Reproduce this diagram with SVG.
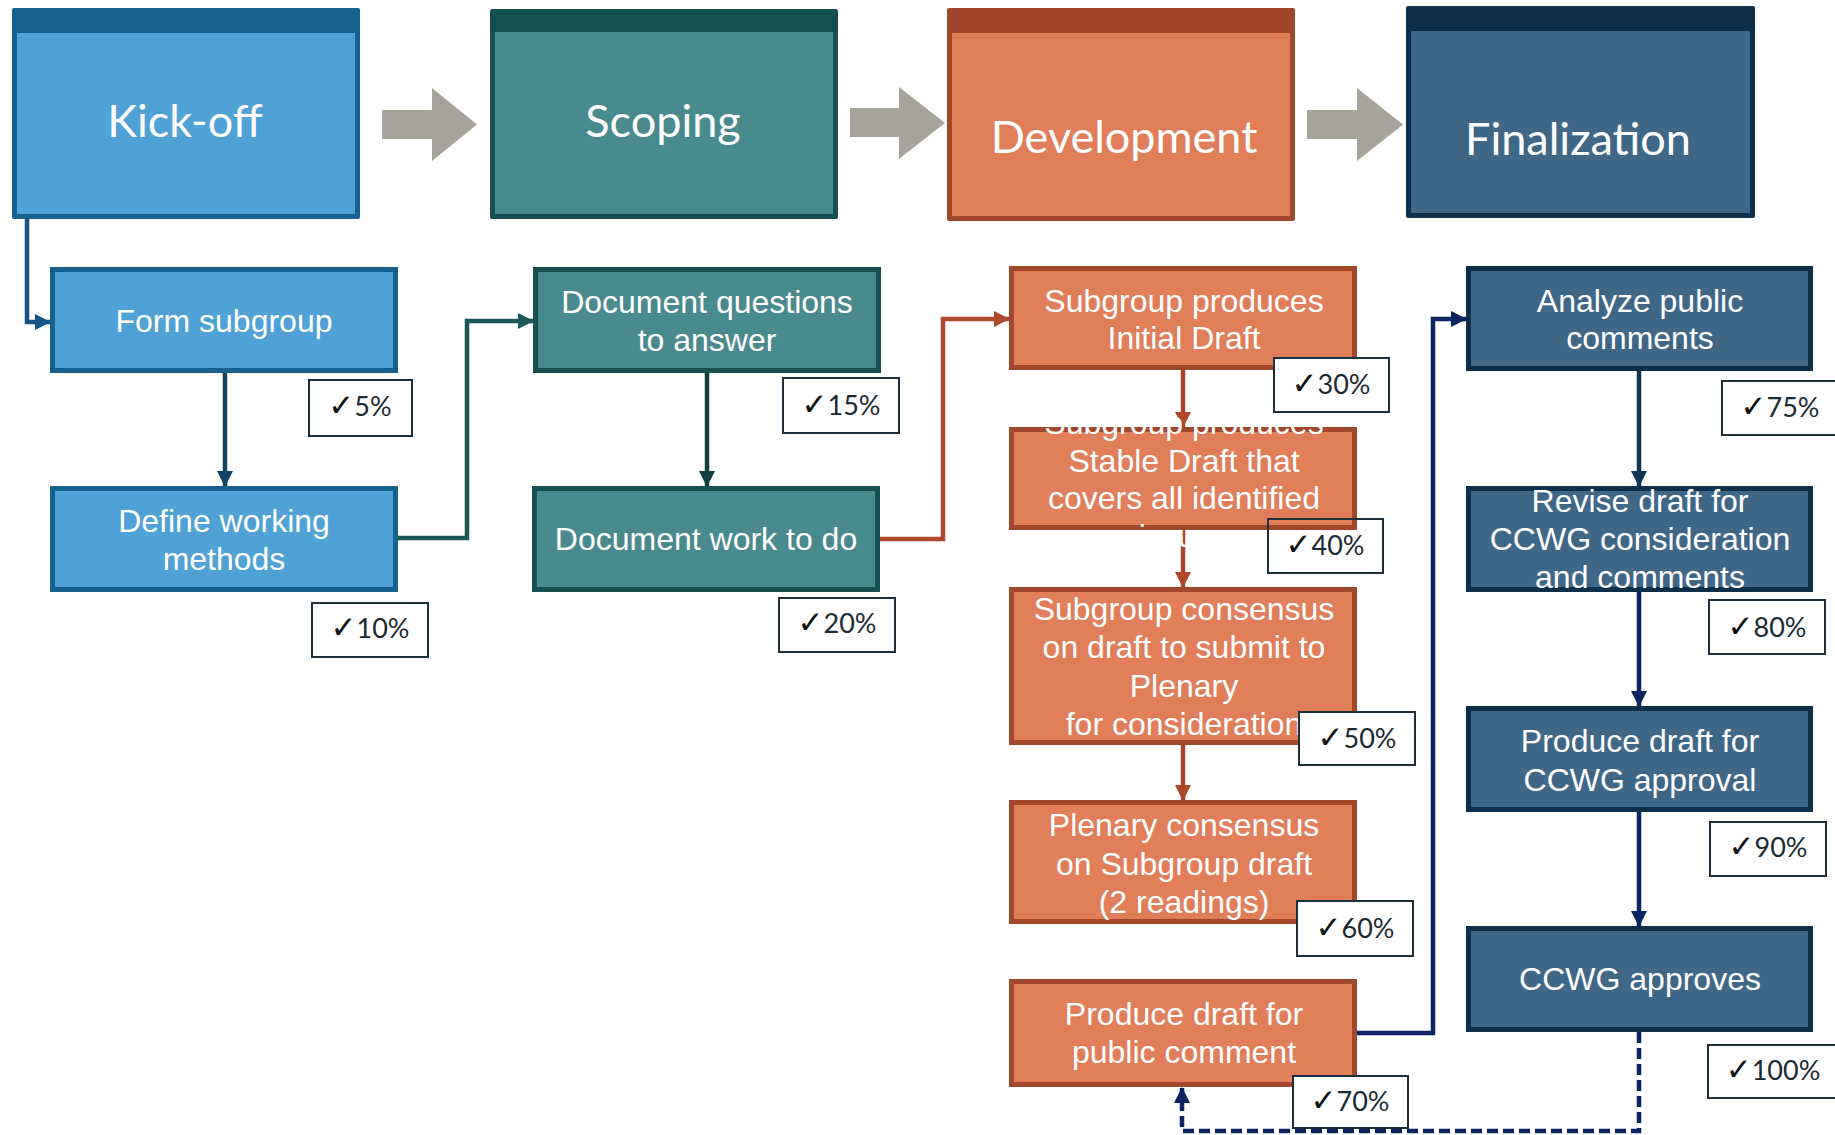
<svg xmlns="http://www.w3.org/2000/svg" width="1835" height="1135" viewBox="0 0 1835 1135">
<defs>
<style>
.hdr-t{font-family:Lato,"Open Sans",sans-serif;font-size:45px;fill:#fff;text-anchor:middle}
.bt{font-family:"Liberation Sans",Arial,sans-serif;font-size:32px;fill:#fff;text-anchor:middle}
.chk rect{fill:#fff;stroke:#1f3038;stroke-width:2}
.chk text{font-family:Lato,"DejaVu Sans",sans-serif;font-size:27px;fill:#1a2a30;text-anchor:middle}
.chk tspan.m{font-family:"DejaVu Sans",sans-serif;font-size:31px;font-weight:bold;fill:#111}
.con{fill:none;stroke-width:4.5;stroke-linejoin:miter}
.ga{fill:#a6a39a}
.kb{fill:#4fa1d6;stroke:#17618f;stroke-width:5}
.sb{fill:#488a8d;stroke:#175050;stroke-width:5}
.db{fill:#e07e5a;stroke:#a2472a;stroke-width:5}
.fb{fill:#3e6788;stroke:#0c2f4b;stroke-width:5}
</style>
<marker id="mBlue" markerUnits="userSpaceOnUse" markerWidth="16" markerHeight="16" viewBox="0 0 16 16" refX="15" refY="8" orient="auto"><path d="M0,0 L16,8 L0,16 z" fill="#17548a"/></marker>
<marker id="mBlue2" markerUnits="userSpaceOnUse" markerWidth="16" markerHeight="16" viewBox="0 0 16 16" refX="15" refY="8" orient="auto"><path d="M0,0 L16,8 L0,16 z" fill="#0f4467"/></marker>
<marker id="mTeal" markerUnits="userSpaceOnUse" markerWidth="16" markerHeight="16" viewBox="0 0 16 16" refX="15" refY="8" orient="auto"><path d="M0,0 L16,8 L0,16 z" fill="#1b5858"/></marker>
<marker id="mTeal2" markerUnits="userSpaceOnUse" markerWidth="16" markerHeight="16" viewBox="0 0 16 16" refX="15" refY="8" orient="auto"><path d="M0,0 L16,8 L0,16 z" fill="#123f40"/></marker>
<marker id="mOr" markerUnits="userSpaceOnUse" markerWidth="16" markerHeight="16" viewBox="0 0 16 16" refX="15" refY="8" orient="auto"><path d="M0,0 L16,8 L0,16 z" fill="#ad4828"/></marker>
<marker id="mNavy" markerUnits="userSpaceOnUse" markerWidth="16" markerHeight="16" viewBox="0 0 16 16" refX="15" refY="8" orient="auto"><path d="M0,0 L16,8 L0,16 z" fill="#0b2462"/></marker>
<marker id="mNavy2" markerUnits="userSpaceOnUse" markerWidth="16" markerHeight="16" viewBox="0 0 16 16" refX="15" refY="8" orient="auto"><path d="M0,0 L16,8 L0,16 z" fill="#0e3556"/></marker>
</defs>
<rect width="1835" height="1135" fill="#fff"/>

<!-- phase arrows -->
<g id="phase-arrows">
<path class="ga" d="M382,110 H432 V88 L477,124.5 L432,161 V139 H382 z"/>
<path class="ga" d="M850,108 H899 V87 L945,123 L899,159 V137 H850 z"/>
<path class="ga" d="M1307,110 H1357 V88 L1403,124.5 L1357,161 V139 H1307 z"/>
</g>

<!-- phase headers -->
<g id="kickoff">
<rect x="12" y="8" width="348" height="211" rx="2" fill="#17618f"/>
<rect x="17" y="33" width="338" height="181" fill="#4fa1d6"/>
<text class="hdr-t" x="185" y="137">Kick-off</text>
</g>
<g id="scoping">
<rect x="490" y="9" width="348" height="210" rx="2" fill="#175050"/>
<rect x="495" y="32" width="338" height="182" fill="#488a8d"/>
<text class="hdr-t" x="663" y="137">Scoping</text>
</g>
<g id="development">
<rect x="947" y="8" width="348" height="213" rx="2" fill="#a2472a"/>
<rect x="952" y="33" width="338" height="183" fill="#e07e5a"/>
<text class="hdr-t" x="1124" y="153">Development</text>
</g>
<g id="finalization">
<rect x="1406" y="6" width="349" height="212" rx="2" fill="#0c2f4b"/>
<rect x="1411" y="31" width="339" height="182" fill="#3e6788"/>
<text class="hdr-t" x="1578" y="155">Finalization</text>
</g>

<!-- connectors -->
<g id="connectors">
<path class="con" stroke="#17548a" marker-end="url(#mBlue)" d="M27,219 V322 H50"/>
<path class="con" stroke="#0f4467" marker-end="url(#mBlue2)" d="M225,373 V486"/>
<path class="con" stroke="#1b5858" marker-end="url(#mTeal)" d="M398,538 H467 V321 H533"/>
<path class="con" stroke="#123f40" marker-end="url(#mTeal2)" d="M707,373 V486"/>
<path class="con" stroke="#b0482a" marker-end="url(#mOr)" d="M880,539 H943 V319 H1009"/>
<path class="con" stroke="#a9452a" marker-end="url(#mOr)" d="M1183,370 V427"/>
<path class="con" stroke="#a9452a" marker-end="url(#mOr)" d="M1183,530 V587"/>
<path class="con" stroke="#a9452a" marker-end="url(#mOr)" d="M1183,745 V800"/>
<path class="con" stroke="#0b2462" marker-end="url(#mNavy)" d="M1357,1033 H1433 V319 H1466"/>
<path class="con" stroke="#0e3556" marker-end="url(#mNavy2)" d="M1639,371 V486"/>
<path class="con" stroke="#0b2462" marker-end="url(#mNavy)" d="M1639,592 V706"/>
<path class="con" stroke="#0b2462" marker-end="url(#mNavy)" d="M1639,812 V926"/>
<path class="con" stroke="#0b2462" stroke-width="5" stroke-dasharray="11 5" marker-end="url(#mNavy)" d="M1639,1032 V1131 H1182 V1088"/>
</g>

<!-- kick-off column -->
<g id="form-subgroup">
<rect class="kb" x="52.5" y="269.5" width="343" height="101"/>
<text class="bt" x="224" y="332">Form subgroup</text>
</g>
<g id="define-working-methods">
<rect class="kb" x="52.5" y="488.5" width="343" height="101"/>
<text class="bt" x="224" y="532">Define working</text>
<text class="bt" x="224" y="570">methods</text>
</g>

<!-- scoping column -->
<g id="document-questions">
<rect class="sb" x="535.5" y="269.5" width="343" height="101"/>
<text class="bt" x="707" y="313">Document questions</text>
<text class="bt" x="707" y="351">to answer</text>
</g>
<g id="document-work">
<rect class="sb" x="534.5" y="488.5" width="343" height="101"/>
<text class="bt" x="706" y="550">Document work to do</text>
</g>

<!-- development column -->
<g id="initial-draft">
<rect class="db" x="1011.5" y="268.5" width="343" height="99"/>
<text class="bt" x="1184" y="312">Subgroup produces</text>
<text class="bt" x="1184" y="349">Initial Draft</text>
</g>
<g id="stable-draft">
<rect class="db" x="1011.5" y="429.5" width="343" height="98"/>
<text class="bt" x="1184" y="434">Subgroup produces</text>
<text class="bt" x="1184" y="472">Stable Draft that</text>
<text class="bt" x="1184" y="509">covers all identified</text>
<text class="bt" x="1184" y="547">issues</text>
</g>
<g id="subgroup-consensus">
<rect class="db" x="1011.5" y="589.5" width="343" height="153"/>
<text class="bt" x="1184" y="620">Subgroup consensus</text>
<text class="bt" x="1184" y="658">on draft to submit to</text>
<text class="bt" x="1184" y="697">Plenary</text>
<text class="bt" x="1184" y="735">for consideration</text>
</g>
<g id="plenary-consensus">
<rect class="db" x="1011.5" y="802.5" width="343" height="119"/>
<text class="bt" x="1184" y="836">Plenary consensus</text>
<text class="bt" x="1184" y="875">on Subgroup draft</text>
<text class="bt" x="1184" y="913">(2 readings)</text>
</g>
<g id="public-comment-draft">
<rect class="db" x="1011.5" y="981.5" width="343" height="103"/>
<text class="bt" x="1184" y="1025">Produce draft for</text>
<text class="bt" x="1184" y="1063">public comment</text>
</g>

<!-- finalization column -->
<g id="analyze-comments">
<rect class="fb" x="1468.5" y="268.5" width="342" height="100"/>
<text class="bt" x="1640" y="312">Analyze public</text>
<text class="bt" x="1640" y="349">comments</text>
</g>
<g id="revise-draft">
<rect class="fb" x="1468.5" y="488.5" width="342" height="101"/>
<text class="bt" x="1640" y="512">Revise draft for</text>
<text class="bt" x="1640" y="550">CCWG consideration</text>
<text class="bt" x="1640" y="588">and comments</text>
</g>
<g id="ccwg-approval-draft">
<rect class="fb" x="1468.5" y="708.5" width="342" height="101"/>
<text class="bt" x="1640" y="752">Produce draft for</text>
<text class="bt" x="1640" y="791">CCWG approval</text>
</g>
<g id="ccwg-approves">
<rect class="fb" x="1468.5" y="928.5" width="342" height="101"/>
<text class="bt" x="1640" y="990">CCWG approves</text>
</g>

<!-- progress checks -->
<g id="checks" class="chk">
<g id="chk5"><rect x="309" y="380" width="103" height="56"/><text x="360" y="416"><tspan class="m">✓</tspan>5%</text></g>
<g id="chk10"><rect x="312" y="603" width="116" height="54"/><text x="370" y="638"><tspan class="m">✓</tspan>10%</text></g>
<g id="chk15"><rect x="783" y="378" width="116" height="55"/><text x="841" y="415"><tspan class="m">✓</tspan>15%</text></g>
<g id="chk20"><rect x="779" y="598" width="116" height="54"/><text x="837" y="633"><tspan class="m">✓</tspan>20%</text></g>
<g id="chk30"><rect x="1274" y="358" width="115" height="54"/><text x="1331" y="394"><tspan class="m">✓</tspan>30%</text></g>
<g id="chk40"><rect x="1268" y="519" width="115" height="54" style="fill:none"/><text x="1325" y="555"><tspan class="m">✓</tspan>40%</text></g>
<g id="chk50"><rect x="1299" y="712" width="116" height="53"/><text x="1357" y="748"><tspan class="m">✓</tspan>50%</text></g>
<g id="chk60"><rect x="1297" y="901" width="116" height="55"/><text x="1355" y="938"><tspan class="m">✓</tspan>60%</text></g>
<g id="chk70"><rect x="1293" y="1076" width="115" height="52"/><text x="1350" y="1111"><tspan class="m">✓</tspan>70%</text></g>
<g id="chk75"><rect x="1722" y="381" width="120" height="54"/><text x="1780" y="417"><tspan class="m">✓</tspan>75%</text></g>
<g id="chk80"><rect x="1709" y="600" width="116" height="54"/><text x="1767" y="637"><tspan class="m">✓</tspan>80%</text></g>
<g id="chk90"><rect x="1710" y="822" width="116" height="54"/><text x="1768" y="857"><tspan class="m">✓</tspan>90%</text></g>
<g id="chk100"><rect x="1708" y="1045" width="132" height="53"/><text x="1773" y="1080"><tspan class="m">✓</tspan>100%</text></g>
</g>
</svg>
